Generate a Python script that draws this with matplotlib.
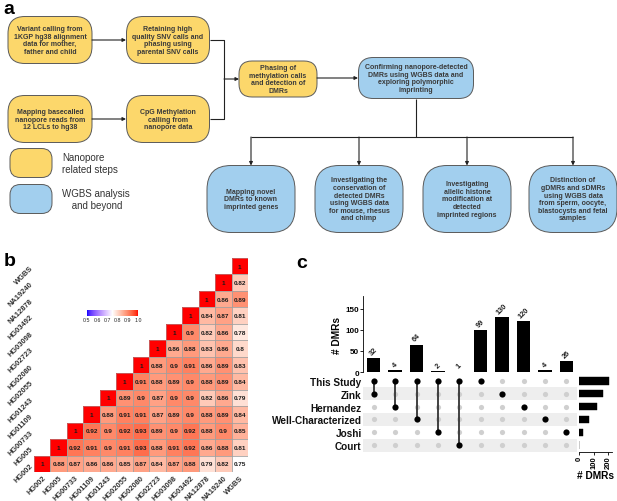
import numpy as np
import matplotlib
matplotlib.use("Agg")
import matplotlib.pyplot as plt
from matplotlib.patches import FancyBboxPatch, Rectangle
from matplotlib.colors import ListedColormap, Normalize
from matplotlib.cm import ScalarMappable

plt.rcParams['font.family'] = ['Liberation Sans', 'DejaVu Sans']

# ---- panel b: correlation matrix (upper triangle, row 0 at bottom) ----
samples = ["HG002", "HG005", "HG00733", "HG01109", "HG01243", "HG02055", "HG02080",
           "HG02723", "HG03098", "HG03492", "NA12878", "NA19240", "WGBS"]
corr_rows = [
    [1, .88, .87, .86, .86, .85, .87, .84, .87, .88, .79, .82, .75],
    [1, .92, .91, .9, .91, .93, .88, .91, .92, .86, .88, .81],
    [1, .92, .9, .92, .93, .89, .9, .92, .88, .9, .85],
    [1, .88, .91, .91, .87, .89, .9, .88, .89, .84],
    [1, .89, .9, .87, .9, .9, .82, .86, .79],
    [1, .91, .88, .89, .9, .88, .89, .84],
    [1, .88, .9, .91, .86, .89, .83],
    [1, .86, .88, .83, .86, .8],
    [1, .9, .82, .86, .78],
    [1, .84, .87, .81],
    [1, .86, .89],
    [1, .82],
    [1],
]
cbar_ticks = [0.5, 0.6, 0.7, 0.8, 0.9, 1.0]

# ---- panel c: upset plot ----
set_names = ["This Study", "Zink", "Hernandez", "Well-Characterized", "Joshi", "Court"]
intersections = [
    ["This Study", "Zink"],
    ["This Study", "Hernandez"],
    ["This Study", "Well-Characterized"],
    ["This Study", "Joshi"],
    ["This Study", "Court"],
    ["This Study"],
    ["Zink"],
    ["Hernandez"],
    ["Well-Characterized"],
    ["Joshi"],
]
inter_counts = [32, 4, 64, 2, 1, 99, 130, 120, 4, 26]


# gradient2-like colour scale (interpolated in Lab like ggplot)
def to_lin(c):
    c = np.asarray(c, float)
    return np.where(c <= 0.04045, c / 12.92, ((c + 0.055) / 1.055) ** 2.4)

def to_srgb(c):
    c = np.clip(c, 0, 1)
    return np.where(c <= 0.0031308, 12.92 * c, 1.055 * c ** (1 / 2.4) - 0.055)

M = np.array([[0.4124, 0.3576, 0.1805], [0.2126, 0.7152, 0.0722], [0.0193, 0.1192, 0.9505]])
WP = np.array([0.95047, 1.0, 1.08883])

def rgb2lab(rgb):
    xyz = M @ to_lin(rgb) / WP
    f = np.where(xyz > 0.008856, np.cbrt(xyz), 7.787 * xyz + 16 / 116)
    return np.array([116 * f[1] - 16, 500 * (f[0] - f[1]), 200 * (f[1] - f[2])])

def lab2rgb(lab):
    fy = (lab[0] + 16) / 116
    f = np.array([fy + lab[1] / 500, fy, fy - lab[2] / 200])
    xyz = np.where(f ** 3 > 0.008856, f ** 3, (f - 16 / 116) / 7.787) * WP
    return to_srgb(np.linalg.solve(M, xyz))

lo, mid, hi = rgb2lab([0, 0, 1]), rgb2lab([1, 1, 1]), rgb2lab([1, 0, 0])
cols = []
for t in np.linspace(0, 1, 256):
    if t < 0.5:
        lab = lo + (mid - lo) * (t / 0.5)
    else:
        lab = mid + (hi - mid) * ((t - 0.5) / 0.5)
    cols.append(lab2rgb(lab))
cmap = ListedColormap(cols)
norm = Normalize(0.5, 1.0)

W, H = 617, 502
fig = plt.figure(figsize=(W / 100, H / 100), dpi=100)

def px_axes(x0, y0, x1, y1):
    # axes from pixel box (top-left origin)
    return fig.add_axes([x0 / W, (H - y1) / H, (x1 - x0) / W, (y1 - y0) / H])

# ---- panel a: flowchart drawn in pixel coordinates ----
axf = fig.add_axes([0, 0, 1, 1])
axf.set_xlim(0, W)
axf.set_ylim(H, 0)
axf.axis('off')

YEL = '#FCD76B'
BLU = '#A2CFEE'
EDGE = '#5a5a5a'
TXT = '#3a3a3a'

def box(cx, cy, w, h, text, color, fs=5.0):
    r = min(w, h) * 0.36
    p = FancyBboxPatch((cx - w / 2, cy - h / 2), w, h,
                       boxstyle="round,pad=0,rounding_size=%.1f" % r,
                       fc=color, ec=EDGE, lw=0.7)
    axf.add_patch(p)
    if text:
        axf.text(cx, cy, text, ha='center', va='center', fontsize=fs,
                 fontweight='bold', color=TXT, linespacing=1.12)

def arrow(x0, y0, x1, y1):
    axf.annotate("", xy=(x1, y1), xytext=(x0, y0),
                 arrowprops=dict(arrowstyle='-|>', lw=0.8, color='#222222',
                                 mutation_scale=5, shrinkA=0, shrinkB=0))

def line(xs, ys):
    axf.plot(xs, ys, color='#222222', lw=0.8, solid_capstyle='butt')

box(50, 41, 84, 47, "Variant calling from\n1KGP hg38 alignment\ndata for mother,\nfather and child", YEL)
box(168, 41, 83, 47, "Retaining high\nquality SNV calls and\nphasing using\nparental SNV calls", YEL)
box(50, 120, 84, 47, "Mapping basecalled\nnanopore reads from\n12 LCLs to hg38", YEL)
box(168, 120, 83, 47, "CpG Methylation\ncalling from\nnanopore data", YEL)
box(278, 80, 78, 36, "Phasing of\nmethylation calls\nand detection of\nDMRs", YEL)
box(416, 79, 115, 41, "Confirming nanopore-detected\nDMRs using WGBS data and\nexploring polymorphic\nimprinting", BLU)

bottom_cx = [251, 359, 467, 573]
bottom_txt = ["Mapping novel\nDMRs to known\nimprinted genes",
              "Investigating the\nconservation of\ndetected DMRs\nusing WGBS data\nfor mouse, rhesus\nand chimp",
              "Investigating\nallelic histone\nmodification at\ndetected\nimprinted regions",
              "Distinction of\ngDMRs and sDMRs\nusing WGBS data\nfrom sperm, oocyte,\nblastocysts and fetal\nsamples"]
for cx, t in zip(bottom_cx, bottom_txt):
    box(cx, 200, 88, 67, t, BLU)

arrow(92, 41, 126, 41)
arrow(92, 120, 126, 120)
line([209.5, 224, 224, 209.5], [41, 41, 120, 120])
arrow(224, 80, 239, 80)
arrow(317, 79, 358, 79)
line([416, 416], [99.5, 138])
line([251, 573], [138, 138])
for cx in bottom_cx:
    arrow(cx, 138, cx, 166.5)

# legend of panel a
box(31, 164, 42, 29, "", YEL)
box(31, 200, 42, 29, "", BLU)
axf.text(62, 164, "Nanopore\nrelated steps", ha='left', va='center', fontsize=7,
         color='#333333', linespacing=1.15)
axf.text(62, 200, "WGBS analysis\n and beyond", ha='left', va='center', fontsize=7,
         color='#333333', linespacing=1.15, multialignment='center')

# panel letters
axf.text(3, 9, "a", fontsize=14, fontweight='bold', ha='left', va='center')
axf.text(4, 262, "b", fontsize=14, fontweight='bold', ha='left', va='center')
axf.text(296, 264, "c", fontsize=14, fontweight='bold', ha='left', va='center')
axf.text(40, 272, "B\u2212Lymphocyte Cell Lines Correlation Matrix", fontsize=5.7,
         fontweight='bold', ha='left', va='center', color='#222222')

# ---- panel b ----
n = len(samples)
mat = np.full((n, n), np.nan)
for i, row in enumerate(corr_rows):
    for k, v in enumerate(row):
        mat[i, i + k] = v

axh = px_axes(34, 259, 248, 473)
axh.pcolormesh(np.arange(n + 1), np.arange(n + 1), np.ma.masked_invalid(mat),
               cmap=cmap, norm=norm, edgecolors='none')
for i in range(n):
    for j in range(n):
        if not np.isnan(mat[i, j]):
            v = mat[i, j]
            axh.add_patch(Rectangle((j, i), 1, 1, fc='none', ec='#a0a0a0', lw=0.4))
            s = "1" if v == 1 else ("%.2f" % v).rstrip('0')
            axh.text(j + 0.5, i + 0.5, s, ha='center', va='center', fontsize=4.6,
                     fontweight='bold', color='#1a1a1a')
axh.set_xlim(0, n)
axh.set_ylim(0, n)
axh.set_xticks(np.arange(n) + 0.5)
axh.set_yticks(np.arange(n) + 0.5)
axh.set_xticklabels(samples, rotation=45, ha='right', va='top', rotation_mode='anchor',
                    fontsize=5.4, fontweight='bold', color='#333333')
axh.set_yticklabels(samples, rotation=45, ha='right', va='center', rotation_mode='anchor',
                    fontsize=5.4, fontweight='bold', color='#333333')
axh.tick_params(length=0, pad=1.5)
for sp in axh.spines.values():
    sp.set_visible(False)

# colour legend
axc = px_axes(87, 311, 138, 317)
cb = fig.colorbar(ScalarMappable(norm=norm, cmap=cmap), cax=axc, orientation='horizontal')
cb.set_ticks(cbar_ticks)
cb.set_ticklabels(["%.1f" % t for t in cbar_ticks])
cb.outline.set_visible(False)
axc.tick_params(length=0, pad=0.8, labelsize=3.8, labelcolor='#222222')
axf.text(112, 305, "Pearson\nCorrelation", ha='center', va='center', fontsize=4.4,
         color='#222222', linespacing=0.85)

# ---- panel c ----
ncol = len(inter_counts)
nset = len(set_names)
xs = np.arange(ncol)

axb = px_axes(363, 297, 577, 373)
axb.bar(xs, inter_counts, width=0.62, color='black')
for x, c in zip(xs, inter_counts):
    axb.annotate(str(c), (x, c), xytext=(0, 1.5), textcoords='offset points',
                 ha='center', va='bottom', rotation=45, fontsize=5.3,
                 fontweight='bold', color='#222222')
axb.set_xlim(-0.5, ncol - 0.5)
axb.set_ylim(0, 180)
axb.set_yticks([0, 50, 100, 150])
axb.set_xticks([])
axb.tick_params(axis='y', labelsize=5.8, length=2, width=0.6, pad=1)
for lab in axb.get_yticklabels():
    lab.set_fontweight('bold')
axb.set_ylabel("# DMRs", fontsize=7.3, fontweight='bold', labelpad=2)
for s in ['top', 'right', 'bottom']:
    axb.spines[s].set_visible(False)
axb.spines['left'].set_linewidth(0.6)

axm = px_axes(363, 375.5, 577, 452.5)
axm.set_xlim(-0.5, ncol - 0.5)
axm.set_ylim(nset - 0.5, -0.5)
for r in range(1, nset, 2):
    axm.axhspan(r - 0.5, r + 0.5, color='#EEEEEE', lw=0, zorder=0)
gx, gy = np.meshgrid(xs, np.arange(nset))
axm.scatter(gx.ravel(), gy.ravel(), s=14, color='#CFCFCF', lw=0, zorder=1)
for x, members in zip(xs, intersections):
    rows = [set_names.index(m) for m in members]
    if len(rows) > 1:
        axm.plot([x, x], [min(rows), max(rows)], color='#333333', lw=1.3, zorder=2)
    axm.scatter([x] * len(rows), rows, s=20, color='black', lw=0, zorder=3)
axm.set_yticks(np.arange(nset))
axm.set_yticklabels(set_names, fontsize=7.2, fontweight='bold', color='#111111')
axm.set_xticks([])
axm.tick_params(length=0, pad=1)
for sp in axm.spines.values():
    sp.set_visible(False)

set_sizes = [sum(c for c, m in zip(inter_counts, intersections) if name in m)
             for name in set_names]
axs = px_axes(579, 375.5, 612, 452.5)
axs.barh(np.arange(nset), set_sizes, height=0.58, color='black', edgecolor='black', lw=0.3)
axs.set_ylim(nset - 0.5, -0.5)
axs.set_xlim(0, 225)
axs.set_xticks([0, 100, 200])
axs.set_yticks([])
axs.tick_params(axis='x', labelsize=5.5, length=2, width=0.6, pad=1, labelrotation=90)
for lab in axs.get_xticklabels():
    lab.set_fontweight('bold')
axs.set_xlabel("# DMRs", fontsize=7.3, fontweight='bold', labelpad=1.5)
for s in ['top', 'right', 'left']:
    axs.spines[s].set_visible(False)
axs.spines['bottom'].set_linewidth(0.6)

fig.savefig("out.png", dpi=100)
